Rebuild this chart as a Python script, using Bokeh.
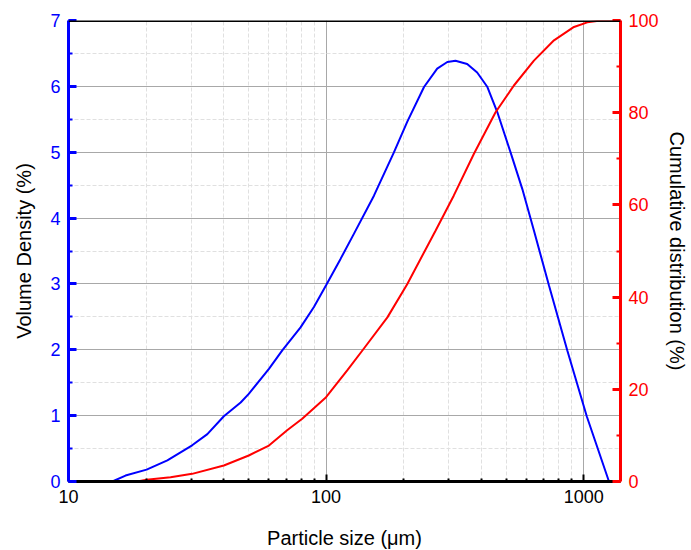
from bokeh.plotting import figure
from bokeh.models import (LinearAxis, Range1d, FixedTicker, SingleIntervalTicker,
                          PrintfTickFormatter, Span)
from bokeh.embed import file_html
from bokeh.resources import INLINE

# ---- data ----
dens_size = [14.8, 16.65, 20.1, 24.2, 30.2, 34.6, 40.1, 46.6, 50.1, 60.0, 67.6, 79.6,
             89.7, 100, 113.8, 128.2, 153.4, 183, 206.5, 240, 270, 295.6, 318, 353,
             386, 423, 462, 521, 578, 641, 733, 864, 1028, 1254]
dens_val = [0, 0.09, 0.18, 0.32, 0.55, 0.72, 0.99, 1.20, 1.33, 1.71, 1.99, 2.34,
            2.65, 2.98, 3.38, 3.76, 4.34, 4.99, 5.46, 5.99, 6.27, 6.37, 6.39, 6.34,
            6.21, 5.99, 5.61, 4.99, 4.44, 3.81, 2.98, 1.99, 0.99, 0]

cum_size = [18.5, 20.1, 24.9, 30.2, 40.1, 50.1, 60, 70.6, 80.8, 100, 120.8, 140, 173,
            206.5, 266, 313, 375, 455, 536, 641, 767, 917, 1033, 1164, 1390]
cum_val = [0, 0.4, 0.94, 1.66, 3.47, 5.64, 7.8, 11.1, 13.6, 18.3, 24.1, 28.8, 35.6,
           42.8, 54.4, 62.0, 71.1, 80.1, 85.9, 91.3, 95.7, 98.6, 99.6, 100, 100]

x_major = [10, 100, 1000]
x_minor = [20, 30, 40, 50, 60, 70, 80, 90, 200, 300, 400, 500, 600, 700, 800, 900]

FONT = "Liberation Sans"

p = figure(frame_width=552, frame_height=461, x_axis_type="log", x_range=(10, 1390),
           y_range=(0, 7), output_backend="svg", toolbar_location=None,
           min_border_left=68, min_border_right=71, min_border_top=20, min_border_bottom=69)
p.outline_line_color = None
p.extra_y_ranges = {"cum": Range1d(0, 100)}

# grids
p.xgrid.ticker = FixedTicker(ticks=x_major, minor_ticks=x_minor)
p.ygrid.ticker = SingleIntervalTicker(interval=1, num_minor_ticks=2)
for g in (p.xgrid[0], p.ygrid[0]):
    g.grid_line_color = "#a8a8a8"
    g.grid_line_width = 1
    g.minor_grid_line_color = "#e0e0e0"
    g.minor_grid_line_dash = "4 2"
    g.minor_grid_line_width = 1

# bottom axis
xa = p.xaxis[0]
xa.ticker = FixedTicker(ticks=x_major, minor_ticks=x_minor)
xa.formatter = PrintfTickFormatter(format="%d")
xa.axis_label = "Particle size (μm)"
xa.axis_line_width = 3
xa.axis_line_color = "black"
xa.major_tick_in = 7
xa.major_tick_out = 0
xa.minor_tick_in = 3
xa.minor_tick_out = 0
xa.major_tick_line_width = 2
xa.minor_tick_line_width = 2
xa.major_label_standoff = 8
xa.axis_label_standoff = 21
xa.major_label_text_font = FONT
xa.major_label_text_font_size = "18px"
xa.major_label_text_color = "black"
xa.axis_label_text_font = FONT
xa.axis_label_text_font_size = "20px"
xa.axis_label_text_font_style = "normal"
xa.axis_label_text_color = "black"

# left axis
ya = p.yaxis[0]
ya.ticker = SingleIntervalTicker(interval=1, num_minor_ticks=2)
ya.axis_label = "Volume Density (%)"
ya.axis_line_width = 3
ya.axis_line_color = "blue"
ya.major_tick_line_color = "blue"
ya.minor_tick_line_color = "blue"
ya.major_tick_in = 8
ya.major_tick_out = 0
ya.minor_tick_in = 4
ya.minor_tick_out = 0
ya.major_tick_line_width = 3
ya.minor_tick_line_width = 2
ya.major_label_standoff = 8
ya.axis_label_standoff = 12
ya.major_label_text_font = FONT
ya.major_label_text_font_size = "18px"
ya.major_label_text_color = "blue"
ya.axis_label_text_font = FONT
ya.axis_label_text_font_size = "20px"
ya.axis_label_text_font_style = "normal"
ya.axis_label_text_color = "black"

# right axis
ra = LinearAxis(y_range_name="cum", ticker=SingleIntervalTicker(interval=20, num_minor_ticks=2),
                axis_label="Cumulative distribution (%)")
ra.axis_line_width = 3
ra.axis_line_color = "red"
ra.major_tick_line_color = "red"
ra.minor_tick_line_color = "red"
ra.major_tick_in = 8
ra.major_tick_out = 0
ra.minor_tick_in = 4
ra.minor_tick_out = 0
ra.major_tick_line_width = 3
ra.minor_tick_line_width = 2
ra.major_label_standoff = 8
ra.axis_label_standoff = 4
ra.major_label_text_font = FONT
ra.major_label_text_font_size = "18px"
ra.major_label_text_color = "red"
ra.axis_label_text_font = FONT
ra.axis_label_text_font_size = "20px"
ra.axis_label_text_font_style = "normal"
ra.axis_label_text_color = "black"
p.add_layout(ra, "right")

# top border line
p.add_layout(Span(location=7, dimension="width", line_color="black", line_width=3))

# curves
p.line(dens_size, dens_val, line_color="blue", line_width=2)
p.line(cum_size, cum_val, line_color="red", line_width=2, y_range_name="cum")

open("out.html", "w").write(file_html(p, INLINE))
